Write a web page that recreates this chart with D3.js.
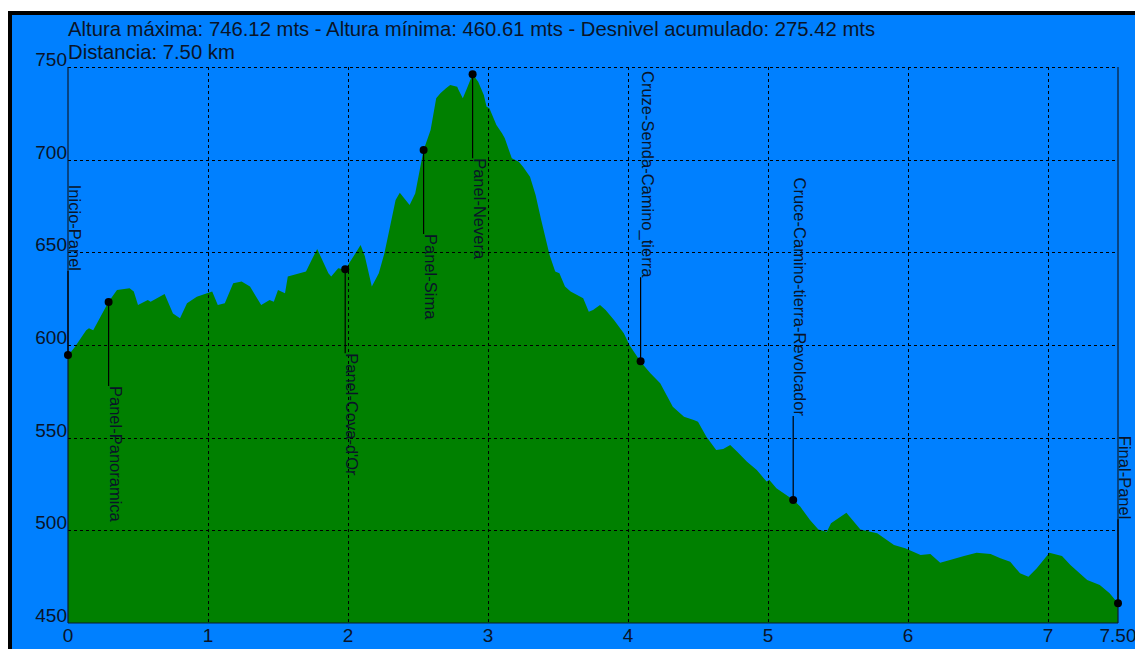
<!DOCTYPE html>
<html>
<head>
<meta charset="utf-8">
<script src="https://cdn.jsdelivr.net/npm/d3@7"></script>
<style>
  html, body { margin: 0; padding: 0; background: #ffffff; }
  svg { display: block; }
  text { font-family: "Liberation Sans", Arial, sans-serif; }
</style>
</head>
<body>
<svg id="chart" width="1135" height="649"></svg>
<script>
// ---- Data ----
const distanceKm = [
  0, 0.05, 0.13, 0.15, 0.18, 0.29, 0.35, 0.44, 0.47, 0.50,
  0.57, 0.59, 0.69, 0.75, 0.80, 0.85, 0.92, 1.03, 1.07, 1.12,
  1.18, 1.24, 1.30, 1.38, 1.44, 1.47, 1.50, 1.55, 1.57, 1.70,
  1.74, 1.78, 1.86, 1.88, 1.93, 1.98, 2.06, 2.09, 2.12, 2.17,
  2.22, 2.26, 2.30, 2.34, 2.37, 2.44, 2.48, 2.54, 2.59, 2.63,
  2.66, 2.70, 2.73, 2.78, 2.79, 2.82, 2.85, 2.89, 2.93, 2.97,
  2.99, 3.01, 3.06, 3.10, 3.12, 3.17, 3.22, 3.25, 3.30, 3.34,
  3.38, 3.44, 3.48, 3.51, 3.55, 3.59, 3.68, 3.72, 3.75, 3.80,
  3.84, 3.90, 3.97, 4.01, 4.09, 4.16, 4.23, 4.32, 4.40, 4.47,
  4.50, 4.56, 4.63, 4.68, 4.73, 4.78, 4.85, 4.92, 4.99, 5.01,
  5.06, 5.18, 5.23, 5.30, 5.36, 5.42, 5.45, 5.56, 5.66, 5.78,
  5.90, 5.98, 6.09, 6.16, 6.23, 6.30, 6.40, 6.49, 6.59, 6.66,
  6.73, 6.80, 6.86, 6.92, 7.01, 7.10, 7.16, 7.28, 7.37, 7.44,
  7.50
];
const elevationM = [
  594.2, 599, 608, 609, 608, 623.4, 629.7, 630.6, 628.8, 621.6,
  624.3, 623.4, 627.5, 617, 614.4, 622.5, 626, 628.8, 621.6, 622.5,
  633.3, 634.2, 631.5, 621.6, 624.3, 623.4, 629.7, 627.9, 636.9, 639.6,
  645.9, 651.8, 638.7, 636.9, 641.4, 640.8, 650.3, 654, 648, 631.5,
  638.7, 649.5, 663.8, 678.2, 682.2, 675.5, 681.8, 705.2, 716, 733.1,
  735.8, 738.5, 740.3, 739.4, 737.6, 733.1, 738.5, 746.1, 742.1, 734.9,
  728.6, 727.7, 718.7, 714.2, 711.5, 700.7, 698.9, 696.2, 690.8, 681,
  667.4, 648.5, 639.6, 638.7, 631.5, 628.8, 625.2, 618, 618.9, 621.6,
  618.9, 613.5, 606.3, 600, 591, 584.7, 579.3, 566.7, 561.3, 559.5,
  558.6, 550.5, 543.3, 543.9, 546, 542.4, 537, 532.5, 526.3, 527.2,
  522.7, 516.5, 512.8, 505.6, 500.5, 499.3, 503.8, 509.5, 500.5, 498.4,
  492.1, 490.3, 486.7, 487.2, 482.5, 484, 486.1, 487.9, 487.2, 484.9,
  483.1, 476.8, 475, 479.5, 487.9, 486.1, 481.3, 473.2, 470.5, 466,
  460.6
];

const waypointNames = ["Inicio-Panel", "Panel-Panoramica", "Panel-Cova-d'Or", "Panel-Sima",
  "Panel-Nevera", "Cruze-Senda-Camino_tierra", "Cruce-Camino-tierra-Revolcador", "Final-Panel"];
const waypointKm = [0, 0.29, 1.98, 2.54, 2.89, 4.09, 5.18, 7.50];
const waypointElev = [594.6, 623.2, 640.9, 705.2, 746.12, 591.2, 516.4, 460.61];
const waypointLabelBelow = [false, true, true, true, true, false, false, false];

const xTicks = [0, 1, 2, 3, 4, 5, 6, 7, 7.5];
const xTickLabels = ["0", "1", "2", "3", "4", "5", "6", "7", "7.50"];
const yTicks = [450, 500, 550, 600, 650, 700, 750];

const titleLines = [
  "Altura máxima: 746.12 mts - Altura mínima: 460.61 mts - Desnivel acumulado: 275.42 mts",
  "Distancia: 7.50 km"
];

// ---- Layout ----
const W = 1135, H = 649;
const plot = { left: 68, right: 1118, top: 67, bottom: 623 };
const BLUE = "#0080ff", GREEN = "#008000", INK = "#0a1428";

const svg = d3.select("#chart");

svg.append("rect").attr("x", 8).attr("y", 11).attr("width", W).attr("height", H).attr("fill", "#000");
svg.append("rect").attr("x", 12).attr("y", 15).attr("width", W).attr("height", H).attr("fill", BLUE);

const x = d3.scaleLinear().domain([0, 7.5]).range([plot.left, plot.right]);
const y = d3.scaleLinear().domain([450, 750]).range([plot.bottom, plot.top]);

const pts = distanceKm.map((d, i) => [d, elevationM[i]]);

// area
const area = d3.area()
  .x(d => x(d[0]))
  .y0(y(450))
  .y1(d => y(d[1]))
  .curve(d3.curveLinear);
svg.append("path").datum(pts).attr("d", area).attr("fill", GREEN);

// grid
const grid = svg.append("g").attr("stroke", "#000").attr("stroke-width", 1)
  .attr("stroke-dasharray", "3,3").attr("shape-rendering", "crispEdges");
grid.selectAll("line.h").data(yTicks.filter(v => v > 450)).enter().append("line")
  .attr("x1", plot.left).attr("x2", plot.right)
  .attr("y1", d => Math.round(y(d)) + 0.5).attr("y2", d => Math.round(y(d)) + 0.5);
grid.selectAll("line.v").data(xTicks.filter(v => v > 0 && v < 7.5)).enter().append("line")
  .attr("y1", plot.top).attr("y2", plot.bottom)
  .attr("x1", d => Math.round(x(d)) + 0.5).attr("x2", d => Math.round(x(d)) + 0.5);

// axes frame (left, bottom, right solid)
const frame = svg.append("g").attr("stroke", "#0d1b30").attr("stroke-width", 1.2).attr("fill", "none");
frame.append("line").attr("x1", plot.left).attr("x2", plot.left).attr("y1", plot.top).attr("y2", plot.bottom);
frame.append("line").attr("x1", plot.left).attr("x2", plot.right).attr("y1", plot.bottom).attr("y2", plot.bottom);
frame.append("line").attr("x1", plot.right).attr("x2", plot.right).attr("y1", plot.top).attr("y2", plot.bottom);

// y axis labels
svg.append("g").selectAll("text").data(yTicks).enter().append("text")
  .attr("x", plot.left - 1).attr("y", d => y(d) - 1)
  .attr("text-anchor", "end").attr("font-size", 19).attr("fill", INK)
  .text(d => d);

// x axis labels
svg.append("g").selectAll("text").data(xTicks).enter().append("text")
  .attr("x", d => x(d)).attr("y", plot.bottom + 19)
  .attr("text-anchor", "middle").attr("font-size", 19).attr("fill", INK)
  .text((d, i) => xTickLabels[i]);

// title
svg.append("g").selectAll("text").data(titleLines).enter().append("text")
  .attr("x", plot.left).attr("y", (d, i) => 36 + i * 23)
  .attr("font-size", 20.3).attr("fill", INK)
  .text(d => d);

// waypoints
const LEN = 84;
const wp = svg.append("g");
waypointNames.forEach((name, i) => {
  const px = x(waypointKm[i]), py = y(waypointElev[i]);
  const below = waypointLabelBelow[i];
  const endY = below ? py + LEN : py - LEN;
  wp.append("line").attr("x1", px).attr("x2", px).attr("y1", py).attr("y2", endY)
    .attr("stroke", "#000").attr("stroke-width", 1.2);
  wp.append("text")
    .attr("transform", `translate(${px + 1},${endY}) rotate(90)`)
    .attr("text-anchor", below ? "start" : "end")
    .attr("font-size", 16.5).attr("fill", INK)
    .text(name);
  wp.append("circle").attr("cx", px).attr("cy", py).attr("r", 4).attr("fill", "#000");
});
</script>
</body>
</html>
